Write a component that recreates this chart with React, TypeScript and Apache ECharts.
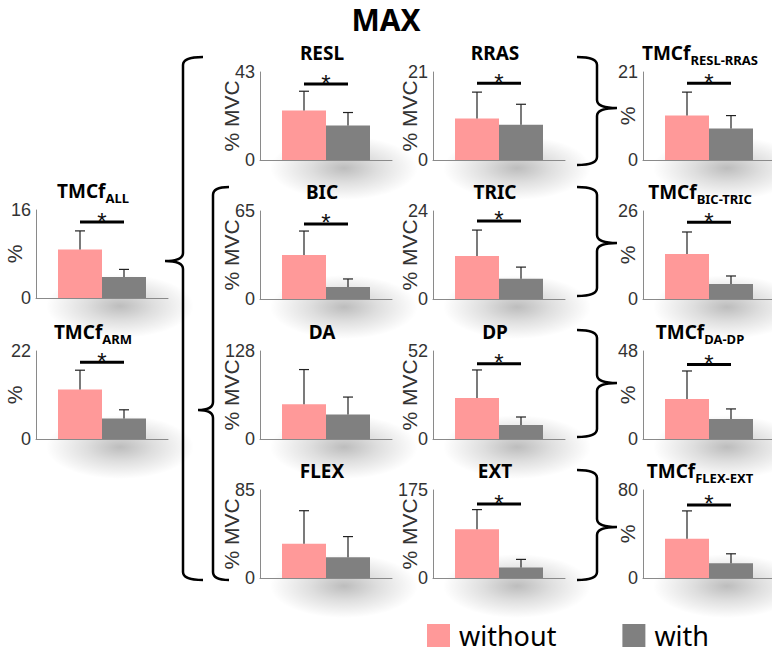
import React, { useEffect, useRef } from 'react';
import * as echarts from 'echarts';

// ---------- data ----------
const titleMain = ['TMCf', 'TMCf', 'RESL', 'RRAS', 'TMCf', 'BIC', 'TRIC', 'TMCf', 'DA', 'DP', 'TMCf', 'FLEX', 'EXT', 'TMCf'];
const titleSub = ['ALL', 'ARM', '', '', 'RESL-RRAS', '', '', 'BIC-TRIC', '', '', 'DA-DP', '', '', 'FLEX-EXT'];
const yNames = ['%', '%', '% MVC', '% MVC', '%', '% MVC', '% MVC', '%', '% MVC', '% MVC', '%', '% MVC', '% MVC', '%'];
const yMax = [16, 22, 43, 21, 21, 65, 24, 26, 128, 52, 48, 85, 175, 80];
const meanWithout = [8.8, 12.4, 24.2, 9.9, 10.6, 32.5, 11.7, 13.3, 50.6, 24.2, 21.8, 33, 97, 35.6];
const sdWithout = [3.4, 4.8, 9.4, 6.3, 5.6, 17.7, 7.1, 6.5, 50.4, 16.6, 15.3, 32, 39, 25.4];
const meanWith = [3.8, 5.1, 16.8, 8.4, 7.5, 8.9, 5.5, 4.4, 35.7, 8.3, 10.9, 20, 21, 13.3];
const sdWith = [1.4, 2.2, 6.4, 4.9, 3.1, 5.9, 3.2, 2.4, 25.3, 4.7, 5.5, 20, 16, 8.7];
const sigLevel: (number | null)[] = [13.8, 19.2, 37.1, 18.3, 18.3, 55.4, 21.3, 22.7, null, 44.5, 40.7, null, 147, 66.4];
const groupNames = ['without', 'with'];

// ---------- layout & style ----------
const panelCol = [0, 0, 1, 2, 3, 1, 2, 3, 1, 2, 3, 1, 2, 3];
const panelRow = [1, 2, 0, 0, 0, 1, 1, 1, 2, 2, 2, 3, 3, 3];
const colLeft = [36, 260, 433, 643];
const rowTop = [72, 211, 351, 490];
const leftColTop = [0, 210, 351];
const gridW = 132;
const gridH = 88;
const nameGapByCol = [11, 18, 13, 5];
const PINK = '#ff9999';
const GRAY = '#808080';
const TITLE_FONT = 'Noto Sans';
const AXIS_FONT = 'Liberation Sans';

function panelBox(i: number) {
  const c = panelCol[i];
  const r = panelRow[i];
  const left = colLeft[c];
  const top = c === 0 ? leftColTop[r] : rowTop[r];
  return { left, top };
}

echarts.graphic.registerShape(
  'brace',
  echarts.graphic.extendShape({
    shape: { sx: 0, y1: 0, ym: 0, y2: 0, e: 20, t: 18, r: 8, d: 1 },
    buildPath(ctx: any, s: any) {
      const d = s.d; // 1: "{" , -1: "}"
      ctx.moveTo(s.sx + d * s.e, s.y1);
      ctx.quadraticCurveTo(s.sx, s.y1, s.sx, s.y1 + s.r);
      ctx.lineTo(s.sx, s.ym - s.r);
      ctx.quadraticCurveTo(s.sx, s.ym, s.sx - d * s.t, s.ym);
      ctx.moveTo(s.sx - d * s.t, s.ym);
      ctx.quadraticCurveTo(s.sx, s.ym, s.sx, s.ym + s.r);
      ctx.lineTo(s.sx, s.y2 - s.r);
      ctx.quadraticCurveTo(s.sx, s.y2, s.sx + d * s.e, s.y2);
    },
  }) as any
);

function buildOption() {
  const grid: any[] = [];
  const xAxis: any[] = [];
  const yAxis: any[] = [];
  const series: any[] = [];
  const graphic: any[] = [];

  titleMain.forEach((main, i) => {
    const { left, top } = panelBox(i);
    const c = panelCol[i];
    grid.push({ left, top, width: gridW, height: gridH, outerBoundsMode: 'none', containLabel: false });
    xAxis.push({
      gridIndex: i, type: 'value', min: 0, max: 3,
      axisLine: { show: true, lineStyle: { color: '#8a8a8a', width: 1 } },
      axisTick: { show: false }, axisLabel: { show: false }, splitLine: { show: false },
    });
    yAxis.push({
      gridIndex: i, type: 'value', min: 0, max: yMax[i], interval: yMax[i],
      axisLine: { show: true, lineStyle: { color: '#8a8a8a', width: 1 } },
      axisTick: { show: false }, splitLine: { show: false },
      axisLabel: { fontSize: 18, color: '#333', margin: 5, fontFamily: AXIS_FONT, padding: [12, 0, 0, 0] },
      name: yNames[i], nameLocation: 'middle', nameGap: nameGapByCol[c], nameMoveOverlap: false,
      nameTextStyle: { fontSize: 21, color: '#333', fontFamily: AXIS_FONT },
    });
    series.push({
      type: 'bar', name: groupNames[0], xAxisIndex: i, yAxisIndex: i,
      data: [[1, meanWithout[i]]], barWidth: 44, barGap: '-100%',
      itemStyle: { color: PINK }, z: 2,
    });
    series.push({
      type: 'bar', name: groupNames[1], xAxisIndex: i, yAxisIndex: i,
      data: [[2, meanWith[i]]], barWidth: 44, barGap: '-100%',
      itemStyle: { color: GRAY }, z: 2,
    });
    series.push({
      type: 'custom', xAxisIndex: i, yAxisIndex: i, z: 3,
      encode: { x: 0, y: [1, 2] },
      data: [
        [1, meanWithout[i], meanWithout[i] + sdWithout[i]],
        [2, meanWith[i], meanWith[i] + sdWith[i]],
      ],
      renderItem: (_p: any, api: any) => {
        const x = api.value(0);
        const p0 = api.coord([x, api.value(1)]);
        const p1 = api.coord([x, api.value(2)]);
        const st = { stroke: '#222', lineWidth: 1.2 };
        return {
          type: 'group',
          children: [
            { type: 'line', shape: { x1: p0[0], y1: p0[1], x2: p1[0], y2: p1[1] }, style: st },
            { type: 'line', shape: { x1: p1[0] - 5, y1: p1[1], x2: p1[0] + 5, y2: p1[1] }, style: st },
          ],
        };
      },
    });
    const sig = sigLevel[i];
    if (sig !== null) {
      series.push({
        type: 'custom', xAxisIndex: i, yAxisIndex: i, z: 3,
        encode: { x: [0, 1], y: 2 },
        data: [[1, 2, sig]],
        renderItem: (_p: any, api: any) => {
          const a = api.coord([api.value(0), api.value(2)]);
          const b = api.coord([api.value(1), api.value(2)]);
          return {
            type: 'group',
            children: [
              { type: 'line', shape: { x1: a[0], y1: a[1], x2: b[0], y2: b[1] }, style: { stroke: '#000', lineWidth: 3 } },
              {
                type: 'text', x: (a[0] + b[0]) / 2, y: a[1] - 1,
                style: { text: '*', fontSize: 24, fontFamily: AXIS_FONT, fill: '#111', align: 'center', verticalAlign: 'middle' },
              },
            ],
          };
        },
      });
    }
    // panel title
    const barsCenter = left + gridW / 2 - 1;
    const sub = titleSub[i];
    graphic.push({
      type: 'text', x: barsCenter - (sub ? 8 : 3), y: top - 19, z: 10,
      style: {
        text: sub ? `{m|${main}}{s|${sub}}` : `{m|${main}}`,
        align: 'center', verticalAlign: 'middle',
        rich: {
          m: { fontSize: 19, fontWeight: 'bold', fontFamily: TITLE_FONT, lineHeight: 24, fill: '#000' },
          s: { fontSize: 13, fontWeight: 'bold', fontFamily: TITLE_FONT, lineHeight: 14, padding: [14, 0, 0, 0], fill: '#000' },
        },
      },
    });
    // soft blurred shadow under the plot
    graphic.push({
      type: 'ellipse', z: -10,
      shape: { cx: left + 84, cy: top + gridH + 8, rx: 74, ry: 32 },
      style: {
        fill: new echarts.graphic.RadialGradient(0.5, 0.5, 0.5, [
          { offset: 0, color: 'rgba(0,0,0,0.26)' },
          { offset: 0.45, color: 'rgba(0,0,0,0.13)' },
          { offset: 1, color: 'rgba(0,0,0,0)' },
        ]),
      },
    });
  });

  // main title
  graphic.push({
    type: 'text', x: 386, y: 19, z: 10,
    style: { text: 'MAX', fontSize: 30, fontWeight: 'bold', fontFamily: TITLE_FONT, fill: '#000', align: 'center', verticalAlign: 'middle' },
  });
  // braces
  const braceStyle = { stroke: '#000', lineWidth: 2.5, fill: 'none' };
  graphic.push({ type: 'brace', z: 10, shape: { sx: 183, y1: 57, ym: 261, y2: 580, e: 20, t: 18, r: 8, d: 1 }, style: braceStyle });
  graphic.push({ type: 'brace', z: 10, shape: { sx: 213, y1: 187, ym: 410, y2: 580, e: 16, t: 15, r: 8, d: 1 }, style: braceStyle });
  const rightBraces = [
    [57, 108, 165],
    [187, 243, 296],
    [330, 383, 437],
    [470, 527, 580],
  ];
  rightBraces.forEach(([y1, ym, y2]) => {
    graphic.push({ type: 'brace', z: 10, shape: { sx: 597, y1, ym, y2, e: 20, t: 20, r: 8, d: -1 }, style: braceStyle });
  });

  return {
    animation: false,
    grid,
    xAxis,
    yAxis,
    series,
    graphic,
    legend: {
      data: groupNames, left: 422, top: 617, itemWidth: 23, itemHeight: 23, itemGap: 66,
      icon: 'rect', selectedMode: false,
      textStyle: { fontSize: 27, fontFamily: TITLE_FONT, color: '#000', padding: [0, 0, 0, 4] },
    },
  };
}

export default function App() {
  const ref = useRef<HTMLDivElement>(null);
  useEffect(() => {
    document.body.style.margin = '0';
    if (!ref.current) return;
    const chart = echarts.init(ref.current, undefined, { renderer: 'svg' });
    chart.setOption(buildOption() as any);
    return () => chart.dispose();
  }, []);
  return <div ref={ref} style={{ width: 772, height: 653, background: '#fff' }} />;
}
